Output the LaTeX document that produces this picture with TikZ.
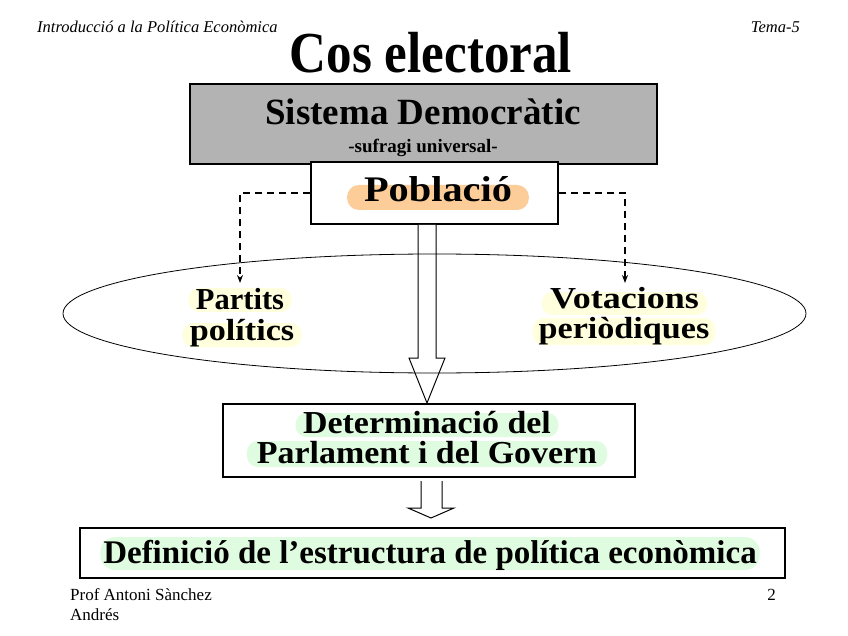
\documentclass[tikz,border=0pt]{standalone}
\usepackage{fontspec}
\usetikzlibrary{shapes.geometric,arrows.meta}
\setmainfont{Liberation Serif}
\newfontfamily\cnd[FakeStretch=0.88]{Liberation Serif}
\newfontfamily\nrm{Liberation Serif}
\newfontfamily\wda[FakeStretch=1.06]{Liberation Serif}
\newfontfamily\wdb[FakeStretch=1.12]{Liberation Serif}
\newfontfamily\wdc[FakeStretch=1.18]{Liberation Serif}
\definecolor{gbox}{RGB}{179,179,179}
\definecolor{hlor}{RGB}{252,204,153}
\definecolor{hlye}{RGB}{255,255,221}
\definecolor{hlgr}{RGB}{224,252,224}
\newcommand{\fs}[1]{\fontsize{#1pt}{#1pt}\selectfont}
\tikzset{
  boxed/.style={draw, line width=2pt, inner sep=0pt},
  txt/.style={inner sep=0pt, anchor=base},
  hl/.style={anchor=base, rounded corners=11pt, inner xsep=8pt, inner ysep=0pt},
  dsh/.style={line width=1.5pt, dash pattern=on 7pt off 5pt, -{Stealth[length=8pt,width=6pt]}},
  blockarrow/.style={draw, fill=white, line width=1pt, line join=miter},
}
\begin{document}
\begin{tikzpicture}[x=1pt,y=-1pt]
\useasboundingbox (0,0) rectangle (848,636);
% header
\node[txt, anchor=base west] (hdl) at (37,33) {\nrm\itshape\fs{16.5}Introducció a la Política Econòmica};
\node[txt, anchor=base east] (hdr) at (800,33) {\nrm\itshape\fs{16.5}Tema-5};
\node[txt] (title) at (431,73) {\cnd\bfseries\fs{58}Cos electoral};
% sistema democratic
\node[boxed, fill=gbox, minimum width=467pt, minimum height=80pt] (sd) at (423.5,124) {};
\node[txt] (sdt) at (423,125) {\nrm\bfseries\fs{37}Sistema Democràtic};
\node[txt] (suf) at (423,153) {\nrm\bfseries\fs{19}-sufragi universal-};
% poblacio
\node[boxed, fill=white, minimum width=247pt, minimum height=62pt] (pob) at (434.5,193) {};
\node[hl, fill=hlor, rounded corners=12pt, inner xsep=17pt, text height=17pt, text depth=8pt] (pobt) at (438,202) {\wdb\bfseries\fs{36}Població};
% big block arrow (drawn under the ellipse)
\draw[blockarrow] (418,225) -- (418,358) -- (409,358) -- (427,403) -- (445,358) -- (436,358) -- (436,225);
% ellipse
\node[ellipse, draw, line width=0.8pt, minimum width=743pt, minimum height=119pt] (el) at (434.5,313.5) {};
\node[hl, fill=hlye, inner xsep=7.5pt, text height=21pt, text depth=3pt] (p1) at (240,309) {\nrm\bfseries\fs{30.5}Partits};
\node[hl, fill=hlye, inner xsep=7.5pt, text height=17pt, text depth=7pt] (p2) at (242,340) {\wdb\bfseries\fs{30.5}polítics};
\node[hl, fill=hlye, inner xsep=8.5pt, text height=16pt, text depth=7pt] (v1) at (624.5,308) {\wdc\bfseries\fs{30.5}Votacions};
\node[hl, fill=hlye, inner xsep=6pt, text height=20pt, text depth=7pt] (v2) at (624,338) {\wdb\bfseries\fs{30.5}periòdiques};
% dashed connectors
\coordinate (pl) at (240,283);
\coordinate (pr) at (625,283);
\draw[dsh] (pob.west) -| (pl);
\draw[dsh] (pob.east) -| (pr);
% determinacio
\node[boxed, fill=white, minimum width=412pt, minimum height=73pt] (det) at (428.5,440) {};
\node[hl, fill=hlgr, inner xsep=7.5pt, text height=20pt, text depth=4pt] (d1) at (427,433) {\wda\bfseries\fs{32}Determinació del};
\node[hl, fill=hlgr, inner xsep=10pt, text height=22pt, text depth=4pt] (d2) at (427,463) {\wda\bfseries\fs{32}Parlament i del Govern};
% small block arrow
\draw[blockarrow] (421,481) -- (421,508) -- (408,508) -- (431,518) -- (454,508) -- (442,508) -- (442,481);
% definicio
\node[boxed, fill=white, minimum width=705pt, minimum height=50pt] (def) at (432.5,553) {};
\node[hl, fill=hlgr, rounded corners=15pt, inner xsep=3pt, text height=26pt, text depth=7pt] (deft) at (430,563) {\nrm\bfseries\fs{33}Definició de l’estructura de política econòmica};
% footer
\node[txt, anchor=base west] (f1) at (70,600) {\nrm\fs{17}Prof Antoni Sànchez};
\node[txt, anchor=base west] (f2) at (70,620) {\nrm\fs{17}Andrés};
\node[txt, anchor=base east] (pg) at (776,600) {\nrm\fs{17}2};
\end{tikzpicture}
\end{document}
